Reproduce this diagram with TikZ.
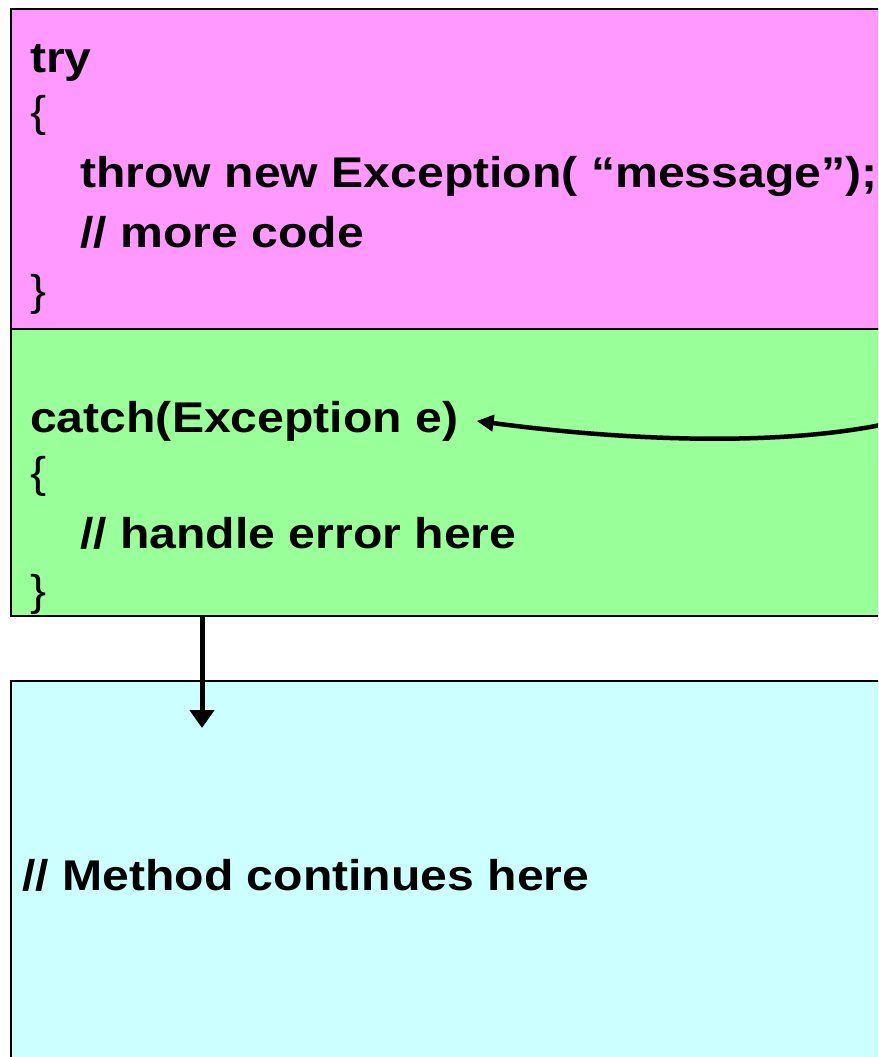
\documentclass[tikz,border=0pt]{standalone}
\usepackage{fontspec}
\setmainfont{Liberation Sans}[FakeStretch=1.12]
\usepackage{tikz}
\usetikzlibrary{arrows.meta, positioning}
\definecolor{trypink}{RGB}{255,153,255}
\definecolor{catchgreen}{RGB}{153,255,153}
\definecolor{restcyan}{RGB}{204,255,255}

\begin{document}
\begin{tikzpicture}[x=1pt, y=-1pt,
    block/.style={draw=black, line width=2pt, anchor=north west, inner sep=0pt, minimum width=900pt},
    code/.style={anchor=base west, inner sep=0pt, font=\fontsize{43}{50}\selectfont\bfseries},
    bracetxt/.style={anchor=base west, inner sep=0pt, font=\fontsize{43}{50}\selectfont},
    flow/.style={line width=5pt, -{Triangle[length=18pt, width=24pt]}},
    thrown/.style={line width=4.5pt, -{Triangle[length=17pt, width=16pt]}}]
    \useasboundingbox (0,0) rectangle (878,1057);
    \clip (0,0) rectangle (878,1057);

    % Blocks
    \node[block, fill=trypink, minimum height=320pt] (tryblock) at (10,8) {};
    \node[block, fill=catchgreen, minimum height=287pt] (catchblock) at (10,328) {};
    \node[block, fill=restcyan, minimum height=420pt] (restblock) at (10,680) {};

    % try part
    \node[code] (trykw) at (30,72) {try};
    \node[bracetxt] (tryopen) at (30,126) {\{};
    \node[code] (throwline) at (80,187) {throw new Exception( “message”);};
    \node[code] (morecode) at (80,247) {// more code};
    \node[bracetxt] (tryclose) at (30,305) {\}};

    % catch part
    \node[code] (catchline) at (30,432) {catch(Exception e)};
    \node[bracetxt] (catchopen) at (30,487) {\{};
    \node[code] (handleline) at (80,548) {// handle error here};
    \node[bracetxt] (catchclose) at (30,605) {\}};

    % after the catch
    \node[code] (methodline) at (22,890) {// Method continues here};

    % Arrows
    \coordinate (throwpt) at (895,422);
    \coordinate (resume) at (202,728);
    \draw[thrown] (throwpt) .. controls (780,448) and (620,440) .. ([xshift=18pt]catchline.east);
    \draw[flow] (catchblock.south -| resume) -- (resume);
\end{tikzpicture}
\end{document}
